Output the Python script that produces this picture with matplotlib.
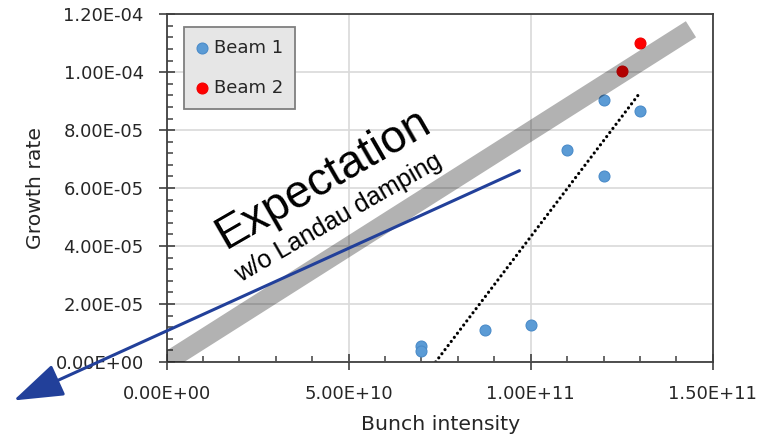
import matplotlib
matplotlib.use("Agg")
import matplotlib.pyplot as plt
from matplotlib.ticker import MultipleLocator, FuncFormatter

# measured data
beam1_x = [7.0e10, 7.0e10, 8.75e10, 1.0e11, 1.1e11, 1.2e11, 1.2e11, 1.3e11]
beam1_y = [0.55e-5, 0.39e-5, 1.10e-5, 1.28e-5, 7.33e-5, 9.03e-5, 6.41e-5, 8.66e-5]
beam2_x = [1.25e11, 1.3e11]
beam2_y = [1.004e-4, 1.10e-4]

# guide lines
band_x = [0.0, 1.44e11]
band_y = [0.0, 1.148e-4]
trend_x = [7.39e10, 1.3e11]
trend_y = [0.0, 9.29e-5]
arrow_start = (9.69e10, 6.6e-5)
arrow_tip = (-4.2e10, -1.33e-5)

def sci(v, pos):
    return f"{v:.2E}"

fig = plt.figure(figsize=(7.64, 4.43), dpi=100)
ax = fig.add_axes([0.218, 0.183, 0.715, 0.785])

ax.set_xlim(0, 1.5e11)
ax.set_ylim(0, 1.2e-4)
ax.xaxis.set_major_locator(MultipleLocator(5e10))
ax.xaxis.set_minor_locator(MultipleLocator(1e10))
ax.yaxis.set_major_locator(MultipleLocator(2e-5))
ax.yaxis.set_minor_locator(MultipleLocator(0.4e-5))
ax.xaxis.set_major_formatter(FuncFormatter(sci))
ax.yaxis.set_major_formatter(FuncFormatter(sci))

ax.grid(True, which='major', color='#D9D9D9', lw=1.2, zorder=0)
ax.set_axisbelow(True)
for s in ax.spines.values():
    s.set_color('#404040')
    s.set_linewidth(1.3)

ax.tick_params(which='major', direction='inout', length=11, width=1.2,
               color='#404040', labelsize=13, labelcolor='#262626')
ax.tick_params(axis='y', which='major', pad=11)
ax.tick_params(axis='x', which='major', pad=11)
ax.tick_params(which='minor', direction='in', length=4, width=1.1, color='#404040')

ax.plot(trend_x, trend_y, color='black', lw=2.3, linestyle=(0, (0.01, 1.6)),
        dash_capstyle='round', zorder=2)

ax.scatter(beam1_x, beam1_y, s=62, color='#5B9BD5', edgecolor='#4A8BC9',
           linewidth=0.8, zorder=3, label='Beam 1')
ax.scatter(beam2_x, beam2_y, s=62, color='#FF0000', edgecolor='#F00000',
           linewidth=0.8, zorder=3, label='Beam 2')

ax.plot(band_x, band_y, color='black', alpha=0.3, lw=13.7,
        solid_capstyle='butt', zorder=4)

ax.annotate('', xy=arrow_tip, xytext=arrow_start, annotation_clip=False,
            arrowprops=dict(arrowstyle='-|>,head_length=3.1,head_width=1.05',
                            mutation_scale=10, color='#22409A', lw=2.2,
                            shrinkA=0, shrinkB=0),
            zorder=5)

ax.text(4.29e10, 6.31e-5, 'Expectation', rotation=30, rotation_mode='anchor',
        ha='center', va='center', fontsize=33, family='Liberation Sans', zorder=6)
ax.text(4.72e10, 4.98e-5, 'w/o Landau damping', rotation=30, rotation_mode='anchor',
        ha='center', va='center', fontsize=18.2, family='Liberation Sans', zorder=6)

ax.set_xlabel('Bunch intensity', fontsize=14.7, color='#262626')
ax.set_ylabel('Growth rate', fontsize=14.7, color='#262626')
ax.xaxis.set_label_coords(0.502, -0.152)
ax.yaxis.set_label_coords(-0.223, 0.5)

leg = ax.legend(loc='upper left', bbox_to_anchor=(0.0317, 0.9635), borderaxespad=0,
                fancybox=False, edgecolor='#7F7F7F', facecolor='#E6E6E6',
                framealpha=1, fontsize=13, handlelength=0.7, handletextpad=0.3,
                labelspacing=1.25, borderpad=0.65, scatterpoints=1)
leg.get_frame().set_linewidth(1.3)
for t in leg.get_texts():
    t.set_color('#262626')

fig.savefig('out.png', dpi=100)
